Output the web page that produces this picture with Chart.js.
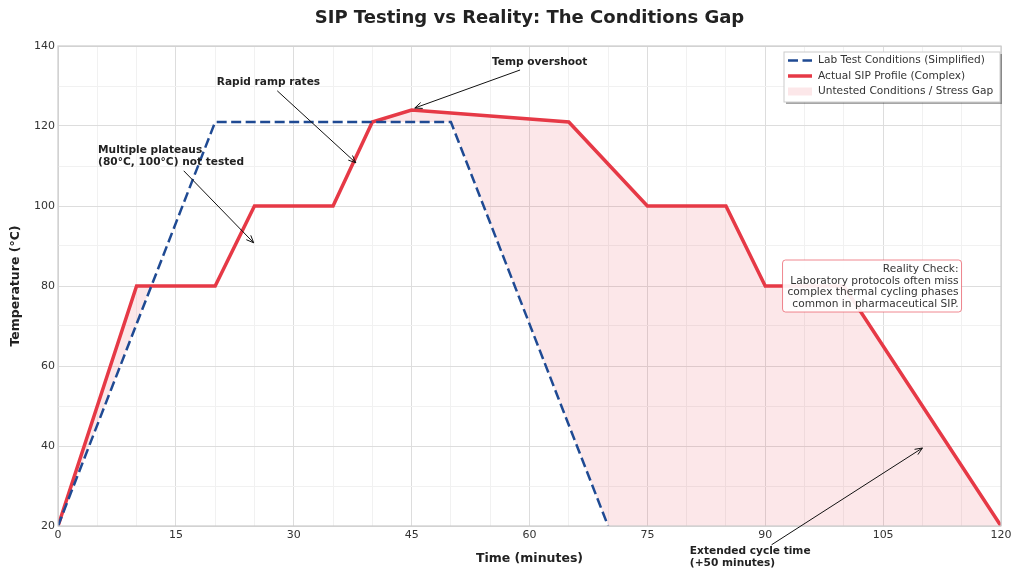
<!DOCTYPE html>
<html>
<head>
<meta charset="utf-8">
<title>SIP Testing vs Reality</title>
<script src="https://cdn.jsdelivr.net/npm/chart.js@4.4.1/dist/chart.umd.min.js"></script>
<style>
  html, body { margin: 0; padding: 0; background: #fff; }
  #wrap { width: 1024px; height: 576px; }
</style>
</head>
<body>
<div id="wrap"><canvas id="chart" width="1024" height="576"></canvas></div>
<script>
// lab protocol (simplified)
const labTime = [0, 20, 50, 70];
const labTemp = [20, 121, 121, 20];

// real SIP cycle
const sipTime = [0, 10, 20, 25, 35, 40, 45, 65, 75, 85, 90, 100, 120];
const sipTemp = [20, 80, 80, 100, 100, 121, 124, 121, 100, 100, 80, 80, 20];

// lab cycle is finished after 70 min, so the base sits at 20 °C until the end
const gapEndTime = 120;
const gapEndTemp = 20;

const xTicks = [0, 15, 30, 45, 60, 75, 90, 105, 120];
const yTicks = [20, 40, 60, 80, 100, 120, 140];

const FONT = "'DejaVu Sans', 'Liberation Sans', sans-serif";
const RED = '#e63946';
const BLUE = '#1f4a93';
const GAP = 'rgba(230, 57, 70, 0.12)';

const labPoints = labTime.map((t, i) => ({ x: t, y: labTemp[i] }));
const sipPoints = sipTime.map((t, i) => ({ x: t, y: sipTemp[i] }));
const gapBase = labPoints.concat([{ x: gapEndTime, y: gapEndTemp }]);

// annotation texts and arrows, in data units
const notes = [
    { lines: ['Rapid ramp rates'], x: 20.2, y: 131, align: 'left',
      from: [27.9, 128.8], to: [37.9, 110.8] },
    { lines: ['Multiple plateaus', '(80°C, 100°C) not tested'], x: 5.1, y: 114, align: 'left',
      from: [16.0, 108.8], to: [24.9, 90.8] },
    { lines: ['Temp overshoot'], x: 61.3, y: 136, align: 'center',
      from: [58.8, 134], to: [45.4, 124.5] },
    { lines: ['Extended cycle time', '(+50 minutes)'], x: 80.4, y: 13.8, align: 'left',
      from: [90.8, 15.3], to: [110, 39.5] }
];

const realityLines = ['Reality Check:', 'Laboratory protocols often miss',
    'complex thermal cycling phases', 'common in pharmaceutical SIP.'];

function arrow(ctx, x1, y1, x2, y2) {
    const a = Math.atan2(y2 - y1, x2 - x1);
    ctx.beginPath();
    ctx.moveTo(x1, y1);
    ctx.lineTo(x2, y2);
    ctx.stroke();
    ctx.beginPath();
    ctx.moveTo(x2 - 8 * Math.cos(a - 0.4), y2 - 8 * Math.sin(a - 0.4));
    ctx.lineTo(x2, y2);
    ctx.lineTo(x2 - 8 * Math.cos(a + 0.4), y2 - 8 * Math.sin(a + 0.4));
    ctx.stroke();
}

const extras = {
    id: 'extras',
    afterDatasetsDraw(chart) {
        const { ctx, chartArea: area, scales: { x, y } } = chart;
        ctx.save();

        // frame around the plot
        ctx.strokeStyle = '#cccccc';
        ctx.lineWidth = 1.2;
        ctx.strokeRect(area.left, area.top, area.right - area.left, area.bottom - area.top);

        // title
        ctx.fillStyle = '#222';
        ctx.font = 'bold 18px ' + FONT;
        ctx.textAlign = 'center';
        ctx.textBaseline = 'middle';
        ctx.fillText('SIP Testing vs Reality: The Conditions Gap', (area.left + area.right) / 2, 18);

        // arrows + labels
        ctx.strokeStyle = '#111';
        ctx.lineWidth = 1;
        notes.forEach(n => {
            arrow(ctx, x.getPixelForValue(n.from[0]), y.getPixelForValue(n.from[1]),
                x.getPixelForValue(n.to[0]), y.getPixelForValue(n.to[1]));
            ctx.font = 'bold 10.6px ' + FONT;
            ctx.fillStyle = '#222';
            ctx.textAlign = n.align;
            n.lines.forEach((l, i) => {
                ctx.fillText(l, x.getPixelForValue(n.x), y.getPixelForValue(n.y) + i * 12);
            });
        });

        // reality check box
        const bx = x.getPixelForValue(92.2), by = y.getPixelForValue(86.5);
        const bw = 179, bh = 52;
        ctx.fillStyle = 'rgba(255,255,255,0.92)';
        ctx.strokeStyle = 'rgba(230,57,70,0.6)';
        ctx.lineWidth = 1;
        ctx.beginPath();
        ctx.roundRect(bx, by, bw, bh, 3);
        ctx.fill();
        ctx.stroke();
        ctx.fillStyle = '#333';
        ctx.font = '10.6px ' + FONT;
        ctx.textAlign = 'right';
        realityLines.forEach((l, i) => ctx.fillText(l, bx + bw - 3, by + 9 + i * 11.8));

        // legend
        const lx = 784, ly = 52, lw = 216, lh = 50;
        ctx.fillStyle = 'rgba(0,0,0,0.35)';
        ctx.fillRect(lx + 2, ly + 2, lw, lh);
        ctx.fillStyle = '#fff';
        ctx.strokeStyle = '#cccccc';
        ctx.fillRect(lx, ly, lw, lh);
        ctx.strokeRect(lx, ly, lw, lh);
        const items = chart.data.datasets;
        items.forEach((ds, i) => {
            const ry = ly + 8.5 + i * 15.5;
            if (i === 2) {
                ctx.fillStyle = GAP;
                ctx.fillRect(lx + 4, ry - 4, 24, 8);
            } else {
                ctx.strokeStyle = ds.borderColor;
                ctx.lineWidth = ds.borderWidth;
                ctx.setLineDash(ds.borderDash || []);
                ctx.beginPath();
                ctx.moveTo(lx + 4, ry);
                ctx.lineTo(lx + 28, ry);
                ctx.stroke();
                ctx.setLineDash([]);
            }
            ctx.fillStyle = '#333';
            ctx.font = '10.6px ' + FONT;
            ctx.textAlign = 'left';
            ctx.fillText(ds.label, lx + 34, ry);
        });

        ctx.restore();
    }
};

new Chart(document.getElementById('chart'), {
    type: 'line',
    data: {
        datasets: [
            {
                label: 'Lab Test Conditions (Simplified)',
                data: labPoints,
                borderColor: BLUE,
                borderWidth: 2.5,
                borderDash: [10, 4.5],
                pointRadius: 0,
                fill: false,
                order: 0
            },
            {
                label: 'Actual SIP Profile (Complex)',
                data: sipPoints,
                borderColor: RED,
                borderWidth: 3.5,
                pointRadius: 0,
                fill: { target: 2, above: GAP, below: 'rgba(0,0,0,0)' },
                order: 1
            },
            {
                label: 'Untested Conditions / Stress Gap',
                data: gapBase,
                borderWidth: 0,
                borderColor: 'rgba(0,0,0,0)',
                backgroundColor: GAP,
                pointRadius: 0,
                fill: false,
                order: 2
            }
        ]
    },
    options: {
        responsive: false,
        animation: false,
        layout: { padding: { top: 46, right: 23, left: 0, bottom: 0 } },
        plugins: {
            legend: { display: false },
            title: { display: false },
            tooltip: { enabled: false }
        },
        scales: {
            x: {
                type: 'linear',
                min: 0,
                max: 120,
                afterFit: s => { s.height = 50; },
                ticks: {
                    stepSize: 5,
                    autoSkip: false,
                    maxRotation: 0,
                    padding: 3,
                    color: '#333',
                    font: { family: FONT, size: 11 },
                    callback: v => xTicks.includes(v) ? String(v) : ''
                },
                grid: {
                    drawTicks: false,
                    color: c => xTicks.includes(c.tick.value) ? '#dddddd' : '#f1f1f1'
                },
                border: { display: false },
                title: {
                    display: true,
                    text: 'Time (minutes)',
                    color: '#222',
                    font: { family: FONT, size: 12.5, weight: 'bold' },
                    padding: { top: 0, bottom: 10 }
                }
            },
            y: {
                min: 20,
                max: 140,
                afterFit: s => { s.width = 58; },
                ticks: {
                    stepSize: 10,
                    autoSkip: false,
                    padding: 3,
                    color: '#333',
                    font: { family: FONT, size: 11 },
                    callback: v => yTicks.includes(v) ? String(v) : ''
                },
                grid: {
                    drawTicks: false,
                    color: c => yTicks.includes(c.tick.value) ? '#dddddd' : '#f1f1f1'
                },
                border: { display: false },
                title: {
                    display: true,
                    text: 'Temperature (°C)',
                    color: '#222',
                    font: { family: FONT, size: 12.5, weight: 'bold' },
                    padding: { top: 8, bottom: 0 }
                }
            }
        }
    },
    plugins: [extras]
});
</script>
</body>
</html>
